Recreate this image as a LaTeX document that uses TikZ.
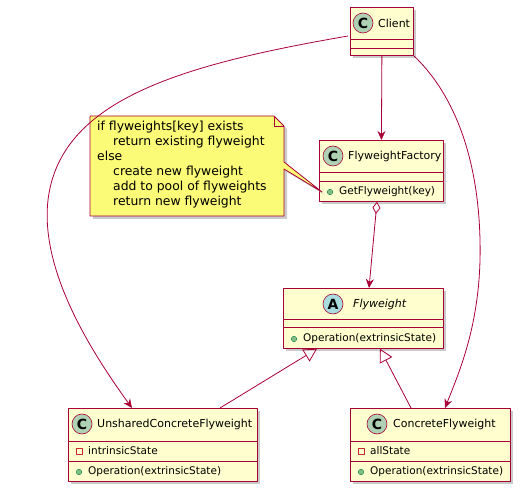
\documentclass[tikz,border=0pt]{standalone}
\usepackage{fontspec}
\setmainfont{DejaVu Sans}
\usetikzlibrary{calc,arrows.meta,shadows}

\definecolor{umlred}{HTML}{A80036}
\definecolor{clsfill}{HTML}{FEFECE}
\definecolor{notefill}{HTML}{FBFB77}
\definecolor{cspot}{HTML}{ADD1B2}
\definecolor{aspot}{HTML}{A9DCDF}
\definecolor{pubfill}{HTML}{84BE84}
\definecolor{pubdraw}{HTML}{038048}
\definecolor{privdraw}{HTML}{C82930}

\tikzset{
	umlshadow/.style={drop shadow={shadow xshift=3pt, shadow yshift=-3pt, fill=black!35, opacity=0.6}},
	cls/.style={draw=umlred, fill=clsfill, line width=0.8pt, anchor=north west, inner sep=0pt, umlshadow},
	sep/.style={draw=umlred, line width=0.8pt},
	spot/.style={circle, draw=umlred, line width=0.6pt, minimum size=20pt, inner sep=0pt, font=\bfseries\fontsize{14}{14}\selectfont},
	title/.style={anchor=west, inner sep=0pt, font=\fontsize{11}{13}\selectfont},
	member/.style={anchor=west, inner sep=0pt, font=\fontsize{10.5}{12}\selectfont},
	pub/.style={circle, fill=pubfill, draw=pubdraw, line width=0.4pt, minimum size=5.5pt, inner sep=0pt},
	priv/.style={rectangle, draw=privdraw, line width=0.6pt, minimum size=6pt, inner sep=0pt},
	link/.style={umlred, line width=0.8pt},
	uses/.style={link, -{Stealth[length=9pt, width=8pt, inset=3pt]}},
	isa/.style={link, -{Triangle[open, length=13pt, width=14pt]}},
	has/.style={link, {Diamond[open, fill=white, length=12pt, width=8pt]}-{Stealth[length=9pt, width=8pt, inset=3pt]}},
}

\begin{document}
\begin{tikzpicture}[x=1pt, y=-1pt, line join=round]
	\useasboundingbox (0,0) rectangle (525,494);
	% Các lớp
	\node[cls, minimum width=63, minimum height=48] (client) at (350,7) {};
	\node[cls, minimum width=124, minimum height=61] (factory) at (319,140) {};
	\node[cls, minimum width=160, minimum height=60] (flyweight) at (283,288) {};
	\node[cls, minimum width=189, minimum height=73] (unshared) at (68,408) {};
	\node[cls, minimum width=160, minimum height=73] (concrete) at (350,408) {};
	% Vạch ngăn
	\draw[sep] ($(client.north west)+(0,32)$) -- ($(client.north east)+(0,32)$);
	\draw[sep] ($(client.north west)+(0,41)$) -- ($(client.north east)+(0,41)$);
	\draw[sep] ($(factory.north west)+(0,32)$) -- ($(factory.north east)+(0,32)$);
	\draw[sep] ($(factory.north west)+(0,41)$) -- ($(factory.north east)+(0,41)$);
	\draw[sep] ($(flyweight.north west)+(0,31)$) -- ($(flyweight.north east)+(0,31)$);
	\draw[sep] ($(flyweight.north west)+(0,39)$) -- ($(flyweight.north east)+(0,39)$);
	\foreach \b in {unshared, concrete} {
		\draw[sep] ($(\b.north west)+(0,33)$) -- ($(\b.north east)+(0,33)$);
		\draw[sep] ($(\b.north west)+(0,53)$) -- ($(\b.north east)+(0,53)$);
	}
	% Tên lớp
	\node[spot, fill=cspot] (clientspot) at (363,23) {C};
	\node[title] (clientname) at (378,23) {Client};
	\node[spot, fill=cspot] (factoryspot) at (333,156) {C};
	\node[title] (factoryname) at (348,156) {FlyweightFactory};
	\node[spot, fill=aspot] (flyweightspot) at (333,304) {A};
	\node[title, font=\itshape\fontsize{11}{13}\selectfont] (flyweightname) at (353,304) {Flyweight};
	\node[spot, fill=cspot] (unsharedspot) at (82,424) {C};
	\node[title] (unsharedname) at (97,424) {UnsharedConcreteFlyweight};
	\node[spot, fill=cspot] (concretespot) at (377,424) {C};
	\node[title] (concretename) at (393,424) {ConcreteFlyweight};
	% Thành viên
	\node[pub] (getdot) at (330,192) {};
	\node[member] (getfw) at (339,192) {GetFlyweight(key)};
	\node[pub] (opdot) at (294,339) {};
	\node[member] (op) at (303,339) {Operation(extrinsicState)};
	\node[priv] (intrdot) at (79,451) {};
	\node[member] (intr) at (88,451) {intrinsicState};
	\node[pub] (uopdot) at (79,472) {};
	\node[member] (uop) at (88,472) {Operation(extrinsicState)};
	\node[priv] (alldot) at (361,451) {};
	\node[member] (all) at (370,451) {allState};
	\node[pub] (copdot) at (361,472) {};
	\node[member] (cop) at (370,472) {Operation(extrinsicState)};
	% Ghi chú
	\coordinate (notetip) at ($(factory.north west)+(3,52)$);
	\draw[umlred, fill=notefill, line width=0.8pt, umlshadow] (90,116) -- (274,116) -- (284,126) -- (284,162)
		-- (notetip) -- (284,169) -- (284,216) -- (90,216) -- cycle;
	\draw[umlred, line width=0.8pt] (274,116) -- (274,126) -- (284,126);
	\node[anchor=north west, align=left, inner sep=0pt, font=\fontsize{12.4}{15}\selectfont] (note) at (97,121)
		{if flyweights[key] exists\\
		\hspace*{16pt}return existing flyweight\\
		else\\
		\hspace*{16pt}create new flyweight\\
		\hspace*{16pt}add to pool of flyweights\\
		\hspace*{16pt}return new flyweight};
	% Quan hệ
	\draw[uses] (client.south) -- (factory.north);
	\draw[has] ($(factory.south west)+(58,0)$) -- ($(flyweight.north west)+(86,0)$);
	\draw[uses] ($(client.north west)+(-2,29)$) .. controls (180,65) and (60,100) .. (48,200)
		.. controls (40,270) and (90,350) .. ($(unshared.north west)+(64,0)$);
	\draw[uses] (client.south east) .. controls (450,90) and (478,150) .. (480,240)
		.. controls (482,320) and (460,370) .. ($(concrete.north west)+(95,0)$);
	\draw[isa] ($(unshared.north west)+(152,0)$) -- ($(flyweight.south west)+(34,0)$);
	\draw[isa] ($(concrete.north west)+(61,0)$) -- ($(flyweight.south west)+(97,0)$);
\end{tikzpicture}
\end{document}
